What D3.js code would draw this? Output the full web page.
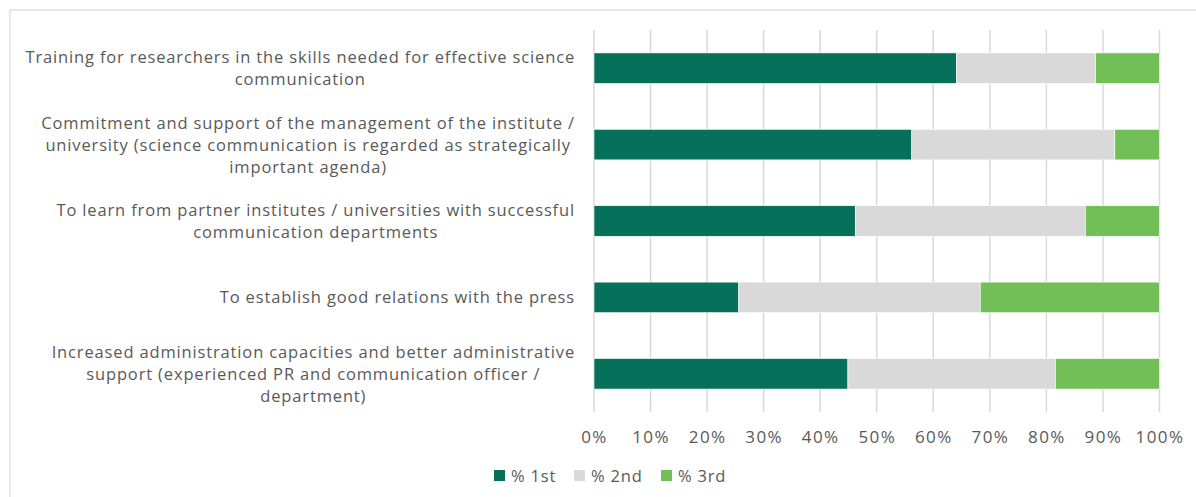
<!DOCTYPE html>
<html>
<head>
<meta charset="utf-8">
<script src="https://cdn.jsdelivr.net/npm/d3@7"></script>
<style>
  body { margin: 0; background: #fff; }
  text { font-family: "Open Sans", "Liberation Sans", sans-serif; fill: #595959; }
</style>
</head>
<body>
<div id="chart"></div>
<script>
const categories = [
  ["Training for researchers in the skills needed for effective science", "communication"],
  ["Commitment and support of the management of the institute /", "university (science communication is regarded as strategically", "important agenda)"],
  ["To learn from partner institutes / universities with successful", "communication departments"],
  ["To establish good relations with the press"],
  ["Increased administration capacities and better administrative", "support (experienced PR and communication officer /", "department)"]
]
const seriesNames = ["% 1st", "% 2nd", "% 3rd"]
const first = [64.1, 56.2, 46.2, 25.6, 44.9]
const second = [24.6, 35.9, 40.7, 42.7, 36.7]
const third = [11.3, 7.9, 13.1, 31.7, 18.4]
const xTicks = [0, 10, 20, 30, 40, 50, 60, 70, 80, 90, 100]

const width = 1196
const height = 497
const colors = ["#07705a", "#d9d9d9", "#72bf58"]

const rows = categories.map((c, i) => ({ key: i, s0: first[i], s1: second[i], s2: third[i] }))
const stacked = d3.stack().keys(["s0", "s1", "s2"])(rows)

const xScale = d3.scaleLinear().domain([0, 100]).range([594, 1159.5])
const yScale = d3.scaleBand().domain(d3.range(categories.length)).range([30, 412]).paddingInner(0.6).paddingOuter(0.3)

const svg = d3.select("#chart").append("svg")
  .attr("width", width)
  .attr("height", height)

// outer frame
svg.append("rect")
  .attr("x", 10).attr("y", 10)
  .attr("width", width + 20).attr("height", height + 20)
  .attr("fill", "none").attr("stroke", "#d9d9d9").attr("stroke-width", 1.2)

// gridlines
svg.append("g")
  .selectAll("line")
  .data(xTicks)
  .join("line")
  .attr("x1", d => xScale(d)).attr("x2", d => xScale(d))
  .attr("y1", 30).attr("y2", 412)
  .attr("stroke", "#d9d9d9").attr("stroke-width", 1.5)

// bars
svg.append("g")
  .selectAll("g")
  .data(stacked)
  .join("g")
  .attr("fill", (d, i) => colors[i])
  .selectAll("rect")
  .data(d => d)
  .join("rect")
  .attr("x", d => xScale(d[0]))
  .attr("width", d => xScale(d[1]) - xScale(d[0]))
  .attr("y", (d, i) => yScale(i))
  .attr("height", yScale.bandwidth())
  .attr("stroke", "#ffffff").attr("stroke-width", 0.6)

// x axis labels
const xAxis = d3.axisBottom(xScale).tickValues(xTicks).tickFormat(d => d + "%").tickSize(0).tickPadding(0)
const xg = svg.append("g")
  .attr("transform", "translate(0 443)")
  .call(xAxis)
xg.select(".domain").remove()
xg.selectAll("text")
  .attr("font-size", "17px").attr("dy", 0)
  .style("font-family", "'Open Sans', sans-serif")
  .style("letter-spacing", "1.4px")
  .attr("fill", "#595959")

// category labels, block right aligned, lines centred
const lineH = 22
categories.forEach((lines, i) => {
  const cy = yScale(i) + yScale.bandwidth() / 2
  const g = svg.append("g")
  const texts = g.selectAll("text")
    .data(lines)
    .join("text")
    .attr("font-size", "16.5px")
    .style("letter-spacing", "0.85px")
    .attr("y", (d, j) => cy + (j - (lines.length - 1) / 2) * lineH + 6)
    .attr("text-anchor", "middle")
    .text(d => d)
  let maxW = 0
  texts.each(function() { maxW = Math.max(maxW, this.getComputedTextLength()) })
  texts.attr("x", 575 - maxW / 2)
})

// legend
const legendX = [494, 574, 661]
const legend = svg.append("g")
  .selectAll("g")
  .data(seriesNames)
  .join("g")
  .attr("transform", (d, i) => `translate(${legendX[i]} 470)`)
legend.append("rect")
  .attr("width", 11).attr("height", 11)
  .attr("fill", (d, i) => colors[i])
legend.append("text")
  .attr("x", 17).attr("y", 11.5)
  .attr("font-size", "16.5px")
  .style("letter-spacing", "0.8px")
  .text(d => d)
</script>
</body>
</html>
